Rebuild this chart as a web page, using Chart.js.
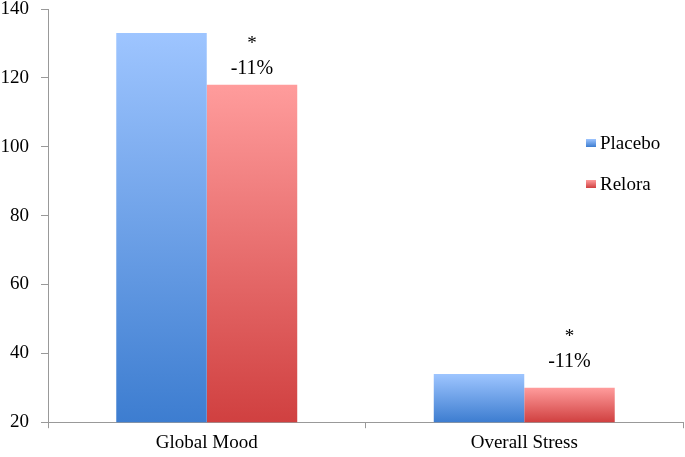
<!DOCTYPE html>
<html>
<head>
<meta charset="utf-8">
<script src="https://cdn.jsdelivr.net/npm/chart.js@4/dist/chart.umd.min.js"></script>
<style>
  body { margin: 0; background: #fff; }
</style>
</head>
<body>
<canvas id="myChart" width="685" height="457"></canvas>
<script>
var categories = ["Global Mood", "Overall Stress"];
var placebo = [133, 34];
var relora = [118, 30];
var notes = ["-11%", "-11%"];

var SERIF = "'Liberation Serif', 'Times New Roman', serif";

function barGradient(light, dark) {
    return function (c) {
        var chart = c.chart;
        if (!chart.chartArea || c.parsed == null) return light;
        var y = chart.scales.y;
        var top = y.getPixelForValue(c.parsed.y);
        var bottom = y.getPixelForValue(y.min);
        if (!isFinite(top) || top >= bottom) return light;
        var g = chart.ctx.createLinearGradient(0, top, 0, bottom);
        g.addColorStop(0, light);
        g.addColorStop(1, dark);
        return g;
    };
}

// legend + star labels drawn by hand
var extras = {
    id: "extras",
    afterDatasetsDraw: function (chart) {
        var ctx = chart.ctx;
        ctx.save();
        ctx.fillStyle = "#000";
        ctx.textAlign = "center";
        ctx.textBaseline = "middle";
        var meta = chart.getDatasetMeta(1);
        // the original puts the second note a bit higher
        var lift = [0, 10];
        meta.data.forEach(function (bar, i) {
            ctx.font = "19px " + SERIF;
            ctx.fillText("*", bar.x, bar.y - 41 - lift[i]);
            ctx.font = "20px " + SERIF;
            ctx.fillText(notes[i], bar.x, bar.y - 16 - lift[i]);
        });
        var items = [
            ["Placebo", "#9ec5ff", "#3d7dd0", 143],
            ["Relora", "#ff9c9c", "#d04040", 184]
        ];
        ctx.textAlign = "left";
        ctx.font = "19px " + SERIF;
        items.forEach(function (it) {
            var g = ctx.createLinearGradient(0, it[3] - 4, 0, it[3] + 4);
            g.addColorStop(0, it[1]);
            g.addColorStop(1, it[2]);
            ctx.fillStyle = g;
            ctx.fillRect(586, it[3] - 4, 10, 8);
            ctx.fillStyle = "#000";
            ctx.fillText(it[0], 600, it[3] + 1);
        });
        ctx.restore();
    }
};

var ctx = document.getElementById("myChart");
var myChart = new Chart(ctx, {
    type: "bar",
    data: {
        labels: categories,
        datasets: [{
            label: "Placebo",
            data: placebo,
            backgroundColor: barGradient("#9ec5ff", "#3d7dd0"),
            barPercentage: 1.0,
            categoryPercentage: 0.57,
        }, {
            label: "Relora",
            data: relora,
            backgroundColor: barGradient("#ff9c9c", "#d04040"),
            barPercentage: 1.0,
            categoryPercentage: 0.57,
        }],
    },
    options: {
        responsive: false,
        animation: false,
        layout: { padding: { top: 9, right: 2, left: 0, bottom: 0 } },
        plugins: {
            legend: { display: false },
            tooltip: { enabled: false },
        },
        scales: {
            x: {
                grid: {
                    offset: true,
                    drawOnChartArea: false,
                    drawTicks: true,
                    tickLength: 6,
                    color: "#999",
                },
                border: { color: "#999", width: 1 },
                ticks: {
                    color: "#000",
                    font: { family: SERIF, size: 19 },
                    padding: 3,
                },
            },
            y: {
                min: 20,
                max: 140,
                afterFit: function (scale) {
                    scale.paddingTop = 0;
                    scale.width = 48;
                },
                grid: {
                    drawOnChartArea: false,
                    drawTicks: true,
                    tickLength: 7,
                    color: "#999",
                },
                border: { color: "#999", width: 1 },
                ticks: {
                    stepSize: 20,
                    color: "#000",
                    font: { family: SERIF, size: 19 },
                    padding: 12,
                },
            },
        },
    },
    plugins: [extras],
});
</script>
</body>
</html>
